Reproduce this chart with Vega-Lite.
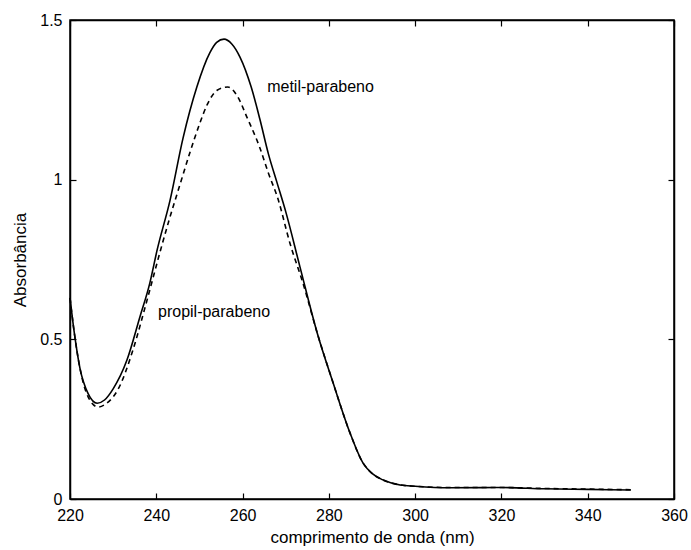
{
  "$schema": "https://vega.github.io/schema/vega-lite/v6.json",
  "width": 604,
  "height": 479,
  "autosize": {"type": "none"},
  "padding": {"left": 70, "top": 20, "right": 17, "bottom": 51},
  "background": "white",
  "config": {
    "view": {"stroke": "black", "strokeWidth": 1.5},
    "font": "Liberation Sans",
    "axis": {
      "labelFont": "Liberation Sans",
      "titleFont": "Liberation Sans",
      "labelFontSize": 16,
      "titleFontSize": 17,
      "titleFontWeight": "normal",
      "labelColor": "black",
      "titleColor": "black",
      "domainColor": "black",
      "tickColor": "black",
      "domainWidth": 1.5,
      "tickWidth": 1.2,
      "grid": false
    }
  },
  "datasets": {
    "spectra": [
      {"w": 220, "a": 0.63, "s": "metil-parabeno"},
      {"w": 221, "a": 0.52, "s": "metil-parabeno"},
      {"w": 222.3, "a": 0.41, "s": "metil-parabeno"},
      {"w": 224.2, "a": 0.33, "s": "metil-parabeno"},
      {"w": 226.3, "a": 0.30, "s": "metil-parabeno"},
      {"w": 228, "a": 0.31, "s": "metil-parabeno"},
      {"w": 230, "a": 0.345, "s": "metil-parabeno"},
      {"w": 233.2, "a": 0.435, "s": "metil-parabeno"},
      {"w": 236.2, "a": 0.57, "s": "metil-parabeno"},
      {"w": 238.5, "a": 0.676, "s": "metil-parabeno"},
      {"w": 240.2, "a": 0.78, "s": "metil-parabeno"},
      {"w": 243.2, "a": 0.936, "s": "metil-parabeno"},
      {"w": 246.2, "a": 1.13, "s": "metil-parabeno"},
      {"w": 249.4, "a": 1.29, "s": "metil-parabeno"},
      {"w": 252.4, "a": 1.397, "s": "metil-parabeno"},
      {"w": 254, "a": 1.43, "s": "metil-parabeno"},
      {"w": 255.7, "a": 1.44, "s": "metil-parabeno"},
      {"w": 257.5, "a": 1.425, "s": "metil-parabeno"},
      {"w": 259.4, "a": 1.384, "s": "metil-parabeno"},
      {"w": 262, "a": 1.29, "s": "metil-parabeno"},
      {"w": 264, "a": 1.19, "s": "metil-parabeno"},
      {"w": 266, "a": 1.08, "s": "metil-parabeno"},
      {"w": 268, "a": 0.99, "s": "metil-parabeno"},
      {"w": 270, "a": 0.90, "s": "metil-parabeno"},
      {"w": 273.3, "a": 0.727, "s": "metil-parabeno"},
      {"w": 277.3, "a": 0.52, "s": "metil-parabeno"},
      {"w": 281, "a": 0.363, "s": "metil-parabeno"},
      {"w": 284.9, "a": 0.207, "s": "metil-parabeno"},
      {"w": 287.9, "a": 0.113, "s": "metil-parabeno"},
      {"w": 290, "a": 0.08, "s": "metil-parabeno"},
      {"w": 292.5, "a": 0.06, "s": "metil-parabeno"},
      {"w": 296.5, "a": 0.044, "s": "metil-parabeno"},
      {"w": 300, "a": 0.04, "s": "metil-parabeno"},
      {"w": 308, "a": 0.035, "s": "metil-parabeno"},
      {"w": 320, "a": 0.036, "s": "metil-parabeno"},
      {"w": 330, "a": 0.032, "s": "metil-parabeno"},
      {"w": 340, "a": 0.03, "s": "metil-parabeno"},
      {"w": 350, "a": 0.028, "s": "metil-parabeno"},
      {"w": 220, "a": 0.63, "s": "propil-parabeno"},
      {"w": 221, "a": 0.52, "s": "propil-parabeno"},
      {"w": 222.3, "a": 0.41, "s": "propil-parabeno"},
      {"w": 224.2, "a": 0.32, "s": "propil-parabeno"},
      {"w": 226.5, "a": 0.288, "s": "propil-parabeno"},
      {"w": 228, "a": 0.295, "s": "propil-parabeno"},
      {"w": 230, "a": 0.32, "s": "propil-parabeno"},
      {"w": 231, "a": 0.34, "s": "propil-parabeno"},
      {"w": 234.6, "a": 0.467, "s": "propil-parabeno"},
      {"w": 237.4, "a": 0.60, "s": "propil-parabeno"},
      {"w": 239.2, "a": 0.69, "s": "propil-parabeno"},
      {"w": 241, "a": 0.78, "s": "propil-parabeno"},
      {"w": 243, "a": 0.875, "s": "propil-parabeno"},
      {"w": 245.5, "a": 0.985, "s": "propil-parabeno"},
      {"w": 247.8, "a": 1.085, "s": "propil-parabeno"},
      {"w": 250.1, "a": 1.177, "s": "propil-parabeno"},
      {"w": 251.8, "a": 1.235, "s": "propil-parabeno"},
      {"w": 254.1, "a": 1.28, "s": "propil-parabeno"},
      {"w": 256.6, "a": 1.29, "s": "propil-parabeno"},
      {"w": 258.9, "a": 1.259, "s": "propil-parabeno"},
      {"w": 261, "a": 1.196, "s": "propil-parabeno"},
      {"w": 264, "a": 1.10, "s": "propil-parabeno"},
      {"w": 266, "a": 1.02, "s": "propil-parabeno"},
      {"w": 268.2, "a": 0.94, "s": "propil-parabeno"},
      {"w": 271, "a": 0.80, "s": "propil-parabeno"},
      {"w": 274, "a": 0.676, "s": "propil-parabeno"},
      {"w": 277.3, "a": 0.52, "s": "propil-parabeno"},
      {"w": 281, "a": 0.363, "s": "propil-parabeno"},
      {"w": 284.9, "a": 0.207, "s": "propil-parabeno"},
      {"w": 287.9, "a": 0.113, "s": "propil-parabeno"},
      {"w": 290, "a": 0.08, "s": "propil-parabeno"},
      {"w": 292.5, "a": 0.06, "s": "propil-parabeno"},
      {"w": 296.5, "a": 0.044, "s": "propil-parabeno"},
      {"w": 300, "a": 0.04, "s": "propil-parabeno"},
      {"w": 308, "a": 0.036, "s": "propil-parabeno"},
      {"w": 320, "a": 0.036, "s": "propil-parabeno"},
      {"w": 330, "a": 0.033, "s": "propil-parabeno"},
      {"w": 340, "a": 0.031, "s": "propil-parabeno"},
      {"w": 350, "a": 0.029, "s": "propil-parabeno"}
    ],
    "labels": [
      {"w": 265.7, "a": 1.29, "t": "metil-parabeno"},
      {"w": 240.4, "a": 0.585, "t": "propil-parabeno"}
    ]
  },
  "layer": [
    {
      "data": {"name": "spectra"},
      "transform": [{"filter": "datum.s === 'metil-parabeno'"}],
      "mark": {"type": "line", "color": "black", "strokeWidth": 1.6, "interpolate": "monotone"},
      "encoding": {
        "x": {
          "field": "w", "type": "quantitative",
          "scale": {"domain": [220, 360], "nice": false, "zero": false},
          "axis": {"orient": "bottom", "title": "comprimento de onda (nm)", "values": [220, 240, 260, 280, 300, 320, 340, 360], "tickSize": -6, "labelPadding": 14, "titlePadding": 6, "labelFlush": false, "labelOverlap": false}
        },
        "y": {
          "field": "a", "type": "quantitative",
          "scale": {"domain": [0, 1.5], "nice": false},
          "axis": {"orient": "left", "title": "Absorbância", "values": [0, 0.5, 1, 1.5], "format": "~g", "tickSize": -6, "labelPadding": 14, "titlePadding": 10, "labelFlush": false, "labelOverlap": false}
        }
      }
    },
    {
      "data": {"name": "spectra"},
      "transform": [{"filter": "datum.s === 'propil-parabeno'"}],
      "mark": {"type": "line", "color": "black", "strokeWidth": 1.6, "strokeDash": [5, 4], "interpolate": "monotone"},
      "encoding": {
        "x": {
          "field": "w", "type": "quantitative",
          "axis": {"orient": "top", "title": null, "labels": false, "values": [220, 240, 260, 280, 300, 320, 340, 360], "tickSize": -6}
        },
        "y": {
          "field": "a", "type": "quantitative",
          "axis": {"orient": "right", "title": null, "labels": false, "values": [0, 0.5, 1, 1.5], "tickSize": -6}
        }
      }
    },
    {
      "data": {"name": "labels"},
      "mark": {"type": "text", "align": "left", "baseline": "middle", "font": "Liberation Sans", "fontSize": 16, "color": "black"},
      "encoding": {
        "x": {"field": "w", "type": "quantitative", "axis": null},
        "y": {"field": "a", "type": "quantitative", "axis": null},
        "text": {"field": "t"}
      }
    }
  ],
  "resolve": {"axis": {"x": "independent", "y": "independent"}}
}
